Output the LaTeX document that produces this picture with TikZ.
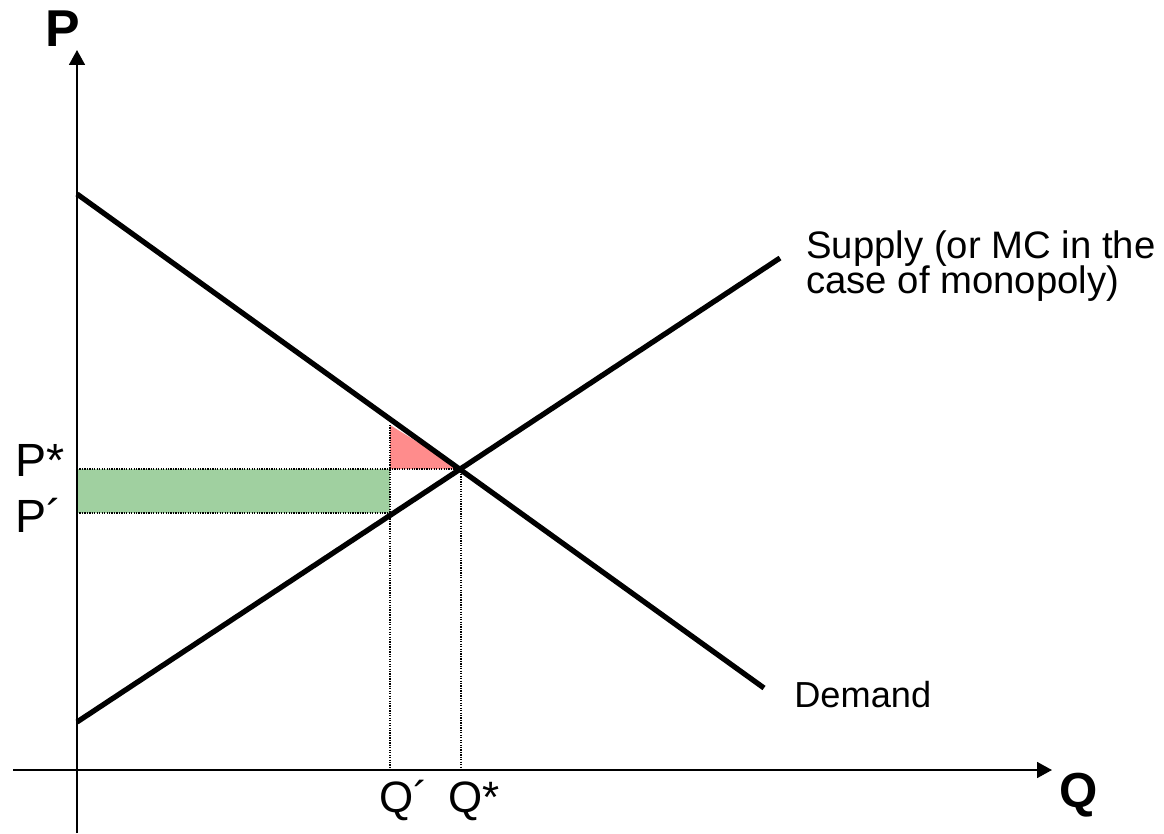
\documentclass[tikz,border=0pt]{standalone}
\usepackage{fontspec}
\setmainfont{Liberation Sans}
\usetikzlibrary{arrows.meta}
\definecolor{lossgreen}{HTML}{A0D0A0}
\definecolor{lossred}{HTML}{FF8C8C}
\tikzset{
  axis/.style={line width=1.2pt,-{Triangle[width=9pt,length=8.5pt]}},
  curve/.style={line width=3pt},
  guide/.style={line width=0.8pt,dash pattern=on 0.7pt off 0.7pt},
  lbl/.style={inner sep=0pt,anchor=base west}
}
\begin{document}
\begin{tikzpicture}[x=0.02cm,y=-0.02cm]
\useasboundingbox (0,0) rectangle (1164,833);
% key coordinates
\coordinate (O) at (77,770);
\coordinate (E) at (461,469);
\coordinate (Pstar) at (77,469);
\coordinate (Pprime) at (77,513);
\coordinate (Qp) at (390,770);
\coordinate (Qs) at (461,770);
\coordinate (QpTop) at (390,425);
\coordinate (Sup) at (390,513);
\coordinate (Pst) at (390,469);
\coordinate (D0) at (77,194);
\coordinate (D1) at (764,688);
\coordinate (S0) at (77,722);
\coordinate (S1) at (780,258);
\coordinate (Ybot) at (77,833);
\coordinate (Ytop) at (77,50);
\coordinate (Xl) at (13,770);
\coordinate (Xr) at (1052,770);
% fills
\fill[lossgreen] (Pstar) rectangle (Sup);
\fill[lossred] (QpTop) -- (Pst) -- (E) -- cycle;
% guides
\draw[guide] (Pstar) -- (E);
\draw[guide] (Pprime) -- (Sup);
\draw[guide] (QpTop) -- (Qp);
\draw[guide] (E) -- (Qs);
% axes
\draw[axis] (Ybot) -- (Ytop);
\draw[axis] (Xl) -- (Xr);
% curves
\draw[curve] (D0) -- (D1);
\draw[curve] (S0) -- (S1);
% labels
\node[font=\bfseries\fontsize{29.5}{30}\selectfont] (Plab) at (63,29) {P};
\node[font=\bfseries\fontsize{28}{30}\selectfont,lbl] (Qlab) at (1059,807) {Q};
\node[font=\fontsize{26.5}{28}\selectfont,lbl] (Pslab) at (15,476) {P*};
\node[font=\fontsize{26.5}{28}\selectfont,lbl] (Pplab) at (15,532) {P´};
\node[font=\fontsize{25}{28}\selectfont,lbl] (Qplab) at (379,812) {Q´};
\node[font=\fontsize{25}{28}\selectfont,lbl] (Qslab) at (448,812) {Q*};
\node[font=\fontsize{21.8}{20}\selectfont,lbl] (Slab1) at (806,258) {Supply (or MC in the};
\node[font=\fontsize{21.8}{20}\selectfont,lbl] (Slab2) at (806,293) {case of monopoly)};
\node[font=\fontsize{20.6}{22}\selectfont,lbl] (Dlab) at (794,707) {Demand};
\end{tikzpicture}
\end{document}
